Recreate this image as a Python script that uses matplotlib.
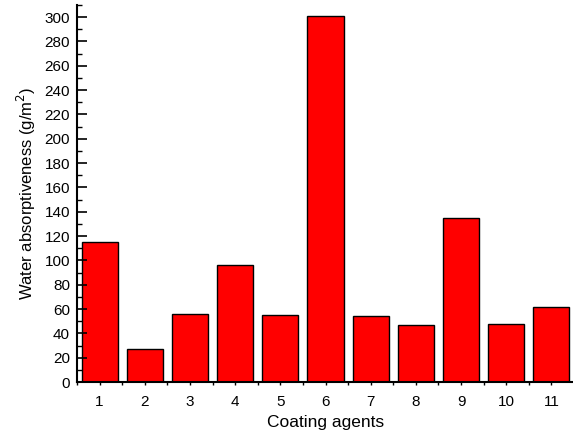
import matplotlib
matplotlib.use("Agg")
import matplotlib.pyplot as plt
from matplotlib.ticker import MultipleLocator

plt.rcParams['font.family'] = ['Liberation Sans', 'DejaVu Sans']

agents = ['1', '2', '3', '4', '5', '6', '7', '8', '9', '10', '11']
absorption = [115, 27, 56, 96, 55, 301, 54, 47, 135, 48, 62]

fig = plt.figure(figsize=(5.73, 4.37), dpi=100)
ax = fig.add_axes([77/573, 1-382/437, 497/573, 377/437])

x = list(range(1, len(agents) + 1))
ax.bar(x, absorption, width=0.8, color='#ff0000', edgecolor='black', linewidth=1.0)

ax.set_xlim(0.5, 11.5)
ax.set_ylim(0, 310)
ax.set_xticks(x)
ax.set_xticklabels(agents)
ax.xaxis.set_minor_locator(MultipleLocator(0.5))
ax.yaxis.set_major_locator(MultipleLocator(20))
ax.yaxis.set_minor_locator(MultipleLocator(10))

for s in ['top', 'right']:
    ax.spines[s].set_visible(False)
for s in ['left', 'bottom']:
    ax.spines[s].set_linewidth(1.5)

ax.tick_params(axis='y', which='major', direction='in', length=7, width=1.2,
               labelsize=11, pad=5)
ax.tick_params(axis='y', which='minor', direction='in', length=3.5, width=1.0)
ax.tick_params(axis='x', which='major', direction='out', length=2, width=1.0,
               labelsize=11, pad=7)
ax.tick_params(axis='x', which='minor', direction='out', length=2, width=1.0)

ax.set_xlabel('Coating agents', fontsize=12.5, labelpad=5)
ax.set_ylabel('Water absorptiveness (g/m$^2$)', fontsize=12, labelpad=5)

fig.savefig('out.png', dpi=100)
